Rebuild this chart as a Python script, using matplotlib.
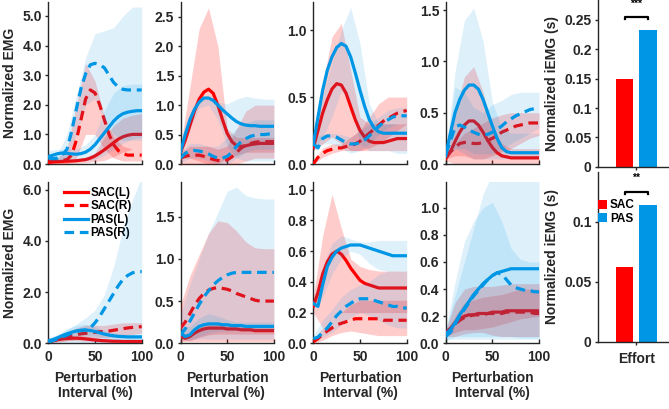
import numpy as np
import matplotlib.pyplot as plt

plt.rcParams['font.family'] = ['Liberation Sans', 'DejaVu Sans']
plt.rcParams['font.weight'] = 'bold'
plt.rcParams['axes.labelweight'] = 'bold'

RED = '#FF0000'
BLUE = '#0096E6'
GREY = '#262626'

# x grids (perturbation interval, %)
x_mean = np.arange(0, 101, 5)
x_band = np.arange(0, 101, 10)

labels = ['SAC(L)', 'SAC(R)', 'PAS(L)', 'PAS(R)']

# ---------- row 1, col 1 ----------
r1c1_sac_l = [0.05, 0.07, 0.08, 0.09, 0.1, 0.1, 0.11, 0.13, 0.15, 0.2, 0.27, 0.37, 0.48, 0.6, 0.72, 0.84, 0.92, 0.97, 1.0, 1.0, 1.0]
r1c1_sac_l_lo = [0.0, 0.0, 0.02, 0.03, 0.05, 0.08, 0.12, 0.25, 0.4, 0.5, 0.5]
r1c1_sac_l_hi = [0.15, 0.15, 0.15, 0.17, 0.22, 0.38, 0.9, 1.3, 1.55, 1.65, 1.7]
r1c1_sac_r = [0.1, 0.1, 0.1, 0.12, 0.15, 0.3, 0.8, 1.5, 2.2, 2.5, 2.4, 2.0, 1.5, 1.0, 0.65, 0.45, 0.35, 0.3, 0.3, 0.3, 0.3]
r1c1_sac_r_lo = [0.0, 0.0, 0.0, 0.2, 1.0, 1.0, 0.5, 0.2, 0.1, 0.1, 0.1]
r1c1_sac_r_hi = [0.15, 0.2, 0.5, 2.0, 3.4, 2.8, 1.6, 0.9, 0.6, 0.5, 0.5]
r1c1_pas_l = [0.25, 0.3, 0.35, 0.37, 0.36, 0.34, 0.33, 0.35, 0.4, 0.5, 0.65, 0.85, 1.05, 1.25, 1.45, 1.6, 1.7, 1.75, 1.78, 1.8, 1.8]
r1c1_pas_l_lo = [0.1, 0.1, 0.1, 0.1, 0.1, 0.15, 0.3, 0.5, 0.7, 0.85, 0.9]
r1c1_pas_l_hi = [0.45, 0.5, 0.5, 0.5, 0.65, 1.0, 1.8, 2.4, 2.65, 2.7, 2.7]
r1c1_pas_r = [0.2, 0.18, 0.2, 0.3, 0.5, 1.1, 1.85, 2.55, 3.05, 3.35, 3.4, 3.35, 3.25, 3.0, 2.75, 2.6, 2.52, 2.5, 2.5, 2.5, 2.5]
r1c1_pas_r_lo = [0.1, 0.1, 0.2, 1.0, 2.0, 2.2, 1.5, 1.0, 0.8, 0.8, 0.8]
r1c1_pas_r_hi = [0.3, 0.35, 1.0, 2.3, 3.6, 4.4, 4.5, 4.6, 5.0, 5.3, 5.3]

# ---------- row 1, col 2 ----------
r1c2_sac_l = [0.2, 0.4, 0.65, 0.9, 1.1, 1.22, 1.27, 1.2, 1.0, 0.75, 0.52, 0.38, 0.31, 0.3, 0.31, 0.33, 0.34, 0.35, 0.35, 0.35, 0.35]
r1c2_sac_l_lo = [0.1, 0.1, 0.05, 0.0, 0.0, 0.1, 0.15, 0.2, 0.2, 0.2, 0.2]
r1c2_sac_l_hi = [0.3, 1.3, 2.3, 2.65, 2.0, 0.6, 0.45, 0.45, 0.45, 0.45, 0.45]
r1c2_sac_r = [0.1, 0.13, 0.15, 0.15, 0.15, 0.13, 0.1, 0.08, 0.06, 0.05, 0.07, 0.12, 0.2, 0.27, 0.32, 0.35, 0.37, 0.38, 0.38, 0.38, 0.38]
r1c2_sac_r_lo = [0.0, 0.0, 0.0, 0.0, 0.0, 0.0, 0.0, 0.05, 0.1, 0.1, 0.1]
r1c2_sac_r_hi = [0.2, 0.3, 0.3, 0.3, 0.25, 0.3, 0.6, 0.9, 1.0, 1.0, 1.0]
r1c2_pas_l = [0.2, 0.5, 0.75, 0.93, 1.05, 1.12, 1.12, 1.08, 1.0, 0.92, 0.85, 0.78, 0.72, 0.68, 0.66, 0.65, 0.65, 0.64, 0.64, 0.64, 0.64]
r1c2_pas_l_lo = [0.1, 0.6, 0.95, 1.0, 0.75, 0.3, 0.1, 0.05, 0.05, 0.05, 0.05]
r1c2_pas_l_hi = [0.3, 0.85, 1.08, 1.13, 1.05, 1.02, 1.1, 1.15, 1.12, 1.1, 1.1]
r1c2_pas_r = [0.1, 0.18, 0.22, 0.23, 0.22, 0.2, 0.17, 0.13, 0.1, 0.1, 0.13, 0.2, 0.3, 0.38, 0.43, 0.47, 0.49, 0.5, 0.5, 0.51, 0.51]
r1c2_pas_r_lo = [0.02, 0.1, 0.1, 0.05, 0.0, 0.0, 0.1, 0.2, 0.25, 0.25, 0.25]
r1c2_pas_r_hi = [0.2, 0.35, 0.35, 0.3, 0.3, 0.45, 0.6, 0.7, 0.75, 0.75, 0.75]

# ---------- row 1, col 3 ----------
r1c3_sac_l = [0.12, 0.25, 0.38, 0.48, 0.56, 0.6, 0.59, 0.53, 0.43, 0.33, 0.25, 0.2, 0.17, 0.16, 0.16, 0.16, 0.17, 0.18, 0.19, 0.19, 0.19]
r1c3_sac_l_lo = [0.1, 0.15, 0.2, 0.15, 0.1, 0.1, 0.1, 0.1, 0.1, 0.1, 0.1]
r1c3_sac_l_hi = [0.15, 0.6, 0.95, 1.05, 0.7, 0.35, 0.3, 0.3, 0.3, 0.3, 0.3]
r1c3_sac_r = [0.0, 0.05, 0.08, 0.1, 0.11, 0.12, 0.12, 0.13, 0.14, 0.15, 0.17, 0.2, 0.23, 0.26, 0.29, 0.32, 0.34, 0.36, 0.38, 0.39, 0.4]
r1c3_sac_r_lo = [0.0, 0.05, 0.08, 0.1, 0.1, 0.1, 0.12, 0.15, 0.2, 0.25, 0.3]
r1c3_sac_r_hi = [0.02, 0.12, 0.15, 0.15, 0.2, 0.25, 0.35, 0.45, 0.5, 0.5, 0.5]
r1c3_pas_l = [0.15, 0.35, 0.55, 0.7, 0.8, 0.87, 0.9, 0.88, 0.8, 0.68, 0.55, 0.43, 0.33, 0.27, 0.24, 0.23, 0.23, 0.23, 0.23, 0.23, 0.23]
r1c3_pas_l_lo = [0.1, 0.2, 0.35, 0.55, 0.45, 0.15, 0.1, 0.1, 0.1, 0.08, 0.08]
r1c3_pas_l_hi = [0.15, 0.5, 0.75, 1.0, 1.17, 0.9, 0.45, 0.3, 0.3, 0.3, 0.3]
r1c3_pas_r = [0.15, 0.12, 0.19, 0.21, 0.21, 0.2, 0.18, 0.16, 0.15, 0.15, 0.16, 0.18, 0.21, 0.25, 0.28, 0.31, 0.33, 0.35, 0.36, 0.36, 0.36]
r1c3_pas_r_lo = [0.1, 0.15, 0.15, 0.12, 0.08, 0.1, 0.15, 0.22, 0.27, 0.3, 0.3]
r1c3_pas_r_hi = [0.2, 0.22, 0.23, 0.22, 0.2, 0.25, 0.3, 0.35, 0.4, 0.42, 0.42]

# ---------- row 1, col 4 ----------
r1c4_sac_l = [0.05, 0.12, 0.22, 0.31, 0.38, 0.42, 0.42, 0.38, 0.31, 0.23, 0.16, 0.11, 0.08, 0.07, 0.06, 0.06, 0.06, 0.06, 0.06, 0.06, 0.06]
r1c4_sac_l_lo = [0.03, 0.0, 0.0, 0.0, 0.0, 0.0, 0.0, 0.0, 0.0, 0.0, 0.0]
r1c4_sac_l_hi = [0.08, 0.5, 0.85, 0.95, 0.7, 0.35, 0.2, 0.15, 0.15, 0.15, 0.15]
r1c4_sac_r = [0.08, 0.12, 0.16, 0.2, 0.21, 0.21, 0.2, 0.2, 0.21, 0.23, 0.25, 0.28, 0.31, 0.33, 0.35, 0.37, 0.38, 0.39, 0.4, 0.4, 0.4]
r1c4_sac_r_lo = [0.05, 0.08, 0.08, 0.05, 0.05, 0.08, 0.12, 0.15, 0.2, 0.25, 0.28]
r1c4_sac_r_hi = [0.1, 0.2, 0.3, 0.35, 0.4, 0.45, 0.48, 0.5, 0.5, 0.5, 0.5]
r1c4_pas_l = [0.08, 0.3, 0.5, 0.63, 0.72, 0.77, 0.77, 0.73, 0.63, 0.5, 0.37, 0.25, 0.16, 0.12, 0.11, 0.11, 0.11, 0.11, 0.11, 0.11, 0.11]
r1c4_pas_l_lo = [0.05, 0.15, 0.1, 0.05, 0.05, 0.05, 0.05, 0.05, 0.05, 0.05, 0.05]
r1c4_pas_l_hi = [0.1, 0.9, 1.4, 1.52, 1.2, 0.6, 0.35, 0.3, 0.3, 0.3, 0.3]
r1c4_pas_r = [0.1, 0.22, 0.36, 0.38, 0.36, 0.33, 0.31, 0.29, 0.28, 0.29, 0.31, 0.34, 0.37, 0.41, 0.44, 0.47, 0.49, 0.51, 0.53, 0.54, 0.54]
r1c4_pas_r_lo = [0.05, 0.15, 0.15, 0.1, 0.1, 0.1, 0.15, 0.2, 0.25, 0.3, 0.35]
r1c4_pas_r_hi = [0.12, 0.75, 0.7, 0.55, 0.5, 0.58, 0.62, 0.68, 0.7, 0.7, 0.7]

# ---------- row 2, col 1 ----------
r2c1_sac_l = [0.05, 0.1, 0.14, 0.17, 0.19, 0.2, 0.2, 0.19, 0.17, 0.15, 0.13, 0.11, 0.1, 0.09, 0.08, 0.08, 0.07, 0.07, 0.07, 0.07, 0.07]
r2c1_sac_l_lo = [0.02, 0.08, 0.1, 0.1, 0.08, 0.06, 0.04, 0.03, 0.02, 0.02, 0.02]
r2c1_sac_l_hi = [0.08, 0.2, 0.28, 0.3, 0.28, 0.22, 0.18, 0.15, 0.14, 0.13, 0.13]
r2c1_sac_r = [0.05, 0.1, 0.15, 0.2, 0.25, 0.3, 0.34, 0.37, 0.39, 0.41, 0.43, 0.45, 0.46, 0.48, 0.51, 0.54, 0.57, 0.6, 0.62, 0.64, 0.65]
r2c1_sac_r_lo = [0.02, 0.05, 0.1, 0.15, 0.2, 0.2, 0.22, 0.25, 0.3, 0.35, 0.4]
r2c1_sac_r_hi = [0.1, 0.3, 0.45, 0.6, 0.7, 0.7, 0.7, 0.75, 0.8, 0.8, 0.8]
r2c1_pas_l = [0.1, 0.15, 0.22, 0.3, 0.37, 0.43, 0.48, 0.51, 0.52, 0.5, 0.46, 0.41, 0.36, 0.32, 0.29, 0.27, 0.26, 0.25, 0.25, 0.25, 0.25]
r2c1_pas_l_lo = [0.05, 0.1, 0.2, 0.3, 0.3, 0.28, 0.2, 0.15, 0.15, 0.15, 0.15]
r2c1_pas_l_hi = [0.15, 0.35, 0.55, 0.7, 0.75, 0.65, 0.5, 0.4, 0.35, 0.35, 0.35]
r2c1_pas_r = [0.05, 0.1, 0.18, 0.25, 0.32, 0.4, 0.46, 0.5, 0.52, 0.6, 0.8, 1.05, 1.35, 1.65, 1.95, 2.25, 2.5, 2.65, 2.75, 2.8, 2.8]
r2c1_pas_r_lo = [0.02, 0.02, 0.02, 0.02, 0.02, 0.02, 0.02, 0.02, 0.02, 0.02, 0.02]
r2c1_pas_r_hi = [0.1, 0.3, 0.55, 0.75, 1.0, 1.3, 1.9, 3.0, 4.5, 5.6, 6.5]

# ---------- row 2, col 2 ----------
r2c2_sac_l = [0.08, 0.06, 0.08, 0.12, 0.15, 0.17, 0.18, 0.18, 0.18, 0.18, 0.17, 0.17, 0.17, 0.16, 0.16, 0.16, 0.15, 0.15, 0.15, 0.15, 0.15]
r2c2_sac_l_lo = [0.04, 0.03, 0.07, 0.1, 0.11, 0.11, 0.11, 0.11, 0.11, 0.11, 0.11]
r2c2_sac_l_hi = [0.12, 0.12, 0.2, 0.24, 0.24, 0.22, 0.21, 0.2, 0.19, 0.19, 0.19]
r2c2_sac_r = [0.18, 0.25, 0.35, 0.45, 0.53, 0.59, 0.63, 0.65, 0.66, 0.65, 0.64, 0.62, 0.59, 0.57, 0.55, 0.53, 0.51, 0.5, 0.5, 0.5, 0.5]
r2c2_sac_r_lo = [0.02, 0.02, 0.02, 0.02, 0.02, 0.02, 0.02, 0.02, 0.02, 0.02, 0.02]
r2c2_sac_r_hi = [0.45, 0.8, 1.05, 1.3, 1.45, 1.43, 1.33, 1.2, 1.13, 1.12, 1.12]
r2c2_pas_l = [0.12, 0.08, 0.1, 0.16, 0.2, 0.22, 0.23, 0.23, 0.23, 0.22, 0.22, 0.21, 0.21, 0.21, 0.2, 0.2, 0.2, 0.2, 0.2, 0.2, 0.2]
r2c2_pas_l_lo = [0.05, 0.03, 0.08, 0.12, 0.14, 0.15, 0.15, 0.15, 0.15, 0.15, 0.15]
r2c2_pas_l_hi = [0.2, 0.2, 0.3, 0.35, 0.32, 0.28, 0.25, 0.25, 0.25, 0.25, 0.25]
r2c2_pas_r = [0.1, 0.17, 0.26, 0.36, 0.46, 0.55, 0.62, 0.69, 0.74, 0.78, 0.81, 0.83, 0.84, 0.84, 0.84, 0.84, 0.84, 0.84, 0.84, 0.84, 0.84]
r2c2_pas_r_lo = [0.05, 0.05, 0.05, 0.05, 0.05, 0.05, 0.05, 0.05, 0.05, 0.05, 0.05]
r2c2_pas_r_hi = [0.35, 0.7, 1.0, 1.3, 1.55, 1.8, 1.85, 1.75, 1.72, 1.71, 1.71]

# ---------- row 2, col 3 ----------
r2c3_sac_l = [0.24, 0.33, 0.45, 0.53, 0.58, 0.6, 0.58, 0.54, 0.49, 0.45, 0.41, 0.39, 0.38, 0.37, 0.36, 0.36, 0.36, 0.36, 0.36, 0.36, 0.36]
r2c3_sac_l_lo = [0.2, 0.1, 0.15, 0.2, 0.2, 0.2, 0.2, 0.2, 0.2, 0.2, 0.2]
r2c3_sac_l_hi = [0.3, 0.7, 0.97, 0.75, 0.55, 0.5, 0.48, 0.47, 0.47, 0.47, 0.47]
r2c3_sac_r = [0.01, 0.03, 0.06, 0.08, 0.1, 0.12, 0.13, 0.14, 0.15, 0.16, 0.16, 0.16, 0.16, 0.16, 0.16, 0.15, 0.15, 0.15, 0.15, 0.15, 0.15]
r2c3_sac_r_lo = [0.0, 0.02, 0.05, 0.07, 0.08, 0.07, 0.06, 0.05, 0.05, 0.05, 0.05]
r2c3_sac_r_hi = [0.03, 0.1, 0.15, 0.2, 0.25, 0.28, 0.28, 0.28, 0.28, 0.28, 0.28]
r2c3_pas_l = [0.26, 0.24, 0.38, 0.5, 0.56, 0.6, 0.62, 0.63, 0.64, 0.64, 0.64, 0.63, 0.62, 0.61, 0.6, 0.59, 0.58, 0.57, 0.57, 0.57, 0.57]
r2c3_pas_l_lo = [0.22, 0.3, 0.45, 0.55, 0.6, 0.58, 0.52, 0.48, 0.47, 0.47, 0.47]
r2c3_pas_l_hi = [0.28, 0.5, 0.65, 0.7, 0.68, 0.66, 0.66, 0.67, 0.67, 0.67, 0.67]
r2c3_pas_r = [0.03, 0.04, 0.07, 0.1, 0.14, 0.18, 0.21, 0.24, 0.26, 0.28, 0.29, 0.29, 0.29, 0.28, 0.27, 0.26, 0.25, 0.24, 0.24, 0.23, 0.23]
r2c3_pas_r_lo = [0.02, 0.04, 0.07, 0.12, 0.17, 0.2, 0.18, 0.15, 0.12, 0.1, 0.1]
r2c3_pas_r_hi = [0.05, 0.15, 0.22, 0.3, 0.35, 0.38, 0.4, 0.45, 0.47, 0.47, 0.47]

# ---------- row 2, col 4 ----------
r2c4_sac_l = [0.08, 0.11, 0.15, 0.18, 0.2, 0.21, 0.21, 0.22, 0.22, 0.22, 0.23, 0.23, 0.23, 0.24, 0.24, 0.24, 0.24, 0.24, 0.24, 0.24, 0.24]
r2c4_sac_l_lo = [0.05, 0.05, 0.07, 0.08, 0.08, 0.06, 0.05, 0.05, 0.05, 0.05, 0.05]
r2c4_sac_l_hi = [0.1, 0.3, 0.4, 0.42, 0.42, 0.42, 0.43, 0.44, 0.44, 0.44, 0.44]
r2c4_sac_r = [0.07, 0.1, 0.14, 0.17, 0.19, 0.2, 0.21, 0.21, 0.21, 0.22, 0.22, 0.22, 0.22, 0.23, 0.23, 0.23, 0.23, 0.23, 0.23, 0.22, 0.22]
r2c4_sac_r_lo = [0.05, 0.08, 0.1, 0.1, 0.11, 0.12, 0.14, 0.16, 0.18, 0.19, 0.2]
r2c4_sac_r_hi = [0.09, 0.2, 0.3, 0.32, 0.34, 0.35, 0.36, 0.38, 0.4, 0.4, 0.4]
r2c4_pas_l = [0.07, 0.1, 0.15, 0.21, 0.26, 0.31, 0.36, 0.4, 0.44, 0.47, 0.5, 0.52, 0.53, 0.54, 0.55, 0.55, 0.55, 0.55, 0.55, 0.55, 0.55]
r2c4_pas_l_lo = [0.03, 0.03, 0.03, 0.03, 0.03, 0.03, 0.03, 0.03, 0.03, 0.03, 0.03]
r2c4_pas_l_hi = [0.1, 0.45, 0.75, 0.9, 1.0, 1.04, 0.9, 0.7, 0.62, 0.6, 0.6]
r2c4_pas_r = [0.05, 0.08, 0.14, 0.2, 0.25, 0.3, 0.35, 0.39, 0.43, 0.47, 0.5, 0.52, 0.51, 0.47, 0.43, 0.41, 0.4, 0.39, 0.39, 0.38, 0.38]
r2c4_pas_r_lo = [0.02, 0.05, 0.05, 0.05, 0.05, 0.05, 0.05, 0.05, 0.04, 0.04, 0.04]
r2c4_pas_r_hi = [0.1, 0.35, 0.6, 0.85, 1.1, 1.25, 1.3, 1.3, 1.3, 1.3, 1.3]

# ---------- integrated EMG (effort) ----------
bar_groups = ['SAC', 'PAS']
iemg_top = [0.149, 0.233]
iemg_bottom = [0.062, 0.114]
sig_top = '***'
sig_bottom = '**'

panels = [
    # (row, col, series, ylim, yticks, fmt)
    (0, 0, [(r1c1_sac_l, r1c1_sac_l_lo, r1c1_sac_l_hi), (r1c1_sac_r, r1c1_sac_r_lo, r1c1_sac_r_hi),
            (r1c1_pas_l, r1c1_pas_l_lo, r1c1_pas_l_hi), (r1c1_pas_r, r1c1_pas_r_lo, r1c1_pas_r_hi)],
     5.47, [0, 1, 2, 3, 4, 5], '{:.1f}'),
    (0, 1, [(r1c2_sac_l, r1c2_sac_l_lo, r1c2_sac_l_hi), (r1c2_sac_r, r1c2_sac_r_lo, r1c2_sac_r_hi),
            (r1c2_pas_l, r1c2_pas_l_lo, r1c2_pas_l_hi), (r1c2_pas_r, r1c2_pas_r_lo, r1c2_pas_r_hi)],
     2.75, [0, 0.5, 1, 1.5, 2, 2.5], '{:.1f}'),
    (0, 2, [(r1c3_sac_l, r1c3_sac_l_lo, r1c3_sac_l_hi), (r1c3_sac_r, r1c3_sac_r_lo, r1c3_sac_r_hi),
            (r1c3_pas_l, r1c3_pas_l_lo, r1c3_pas_l_hi), (r1c3_pas_r, r1c3_pas_r_lo, r1c3_pas_r_hi)],
     1.21, [0, 0.5, 1], '{:.1f}'),
    (0, 3, [(r1c4_sac_l, r1c4_sac_l_lo, r1c4_sac_l_hi), (r1c4_sac_r, r1c4_sac_r_lo, r1c4_sac_r_hi),
            (r1c4_pas_l, r1c4_pas_l_lo, r1c4_pas_l_hi), (r1c4_pas_r, r1c4_pas_r_lo, r1c4_pas_r_hi)],
     1.58, [0, 0.5, 1, 1.5], '{:.1f}'),
    (1, 0, [(r2c1_sac_l, r2c1_sac_l_lo, r2c1_sac_l_hi), (r2c1_sac_r, r2c1_sac_r_lo, r2c1_sac_r_hi),
            (r2c1_pas_l, r2c1_pas_l_lo, r2c1_pas_l_hi), (r2c1_pas_r, r2c1_pas_r_lo, r2c1_pas_r_hi)],
     6.3, [0, 2, 4, 6], '{:.1f}'),
    (1, 1, [(r2c2_sac_l, r2c2_sac_l_lo, r2c2_sac_l_hi), (r2c2_sac_r, r2c2_sac_r_lo, r2c2_sac_r_hi),
            (r2c2_pas_l, r2c2_pas_l_lo, r2c2_pas_l_hi), (r2c2_pas_r, r2c2_pas_r_lo, r2c2_pas_r_hi)],
     1.91, [0, 0.5, 1, 1.5], '{:.1f}'),
    (1, 2, [(r2c3_sac_l, r2c3_sac_l_lo, r2c3_sac_l_hi), (r2c3_sac_r, r2c3_sac_r_lo, r2c3_sac_r_hi),
            (r2c3_pas_l, r2c3_pas_l_lo, r2c3_pas_l_hi), (r2c3_pas_r, r2c3_pas_r_lo, r2c3_pas_r_hi)],
     1.05, [0, 0.2, 0.4, 0.6, 0.8, 1.0], '{:.1f}'),
    (1, 3, [(r2c4_sac_l, r2c4_sac_l_lo, r2c4_sac_l_hi), (r2c4_sac_r, r2c4_sac_r_lo, r2c4_sac_r_hi),
            (r2c4_pas_l, r2c4_pas_l_lo, r2c4_pas_l_hi), (r2c4_pas_r, r2c4_pas_r_lo, r2c4_pas_r_hi)],
     1.19, [0, 0.2, 0.4, 0.6, 0.8, 1.0], '{:.1f}'),
]

styles = [(RED, '-'), (RED, '--'), (BLUE, '-'), (BLUE, '--')]
band_alpha = {RED: 0.2, BLUE: 0.13}

W, H = 669, 409
FS = 10
fig = plt.figure(figsize=(W / 100, H / 100), dpi=100)

col_left = [48.3, 180.5, 313.3, 445.7]
col_w = 93.4
row_top = [2, 182]
row_bot = [164, 343.3]


def style_axis(ax):
    for s in ['top', 'right']:
        ax.spines[s].set_visible(False)
    for s in ['left', 'bottom']:
        ax.spines[s].set_color(GREY)
        ax.spines[s].set_linewidth(1.0)
    ax.tick_params(colors=GREY, labelsize=FS, width=1.0)


for row, col, series, ytop, yticks, fmt in panels:
    l = col_left[col] / W
    b = 1 - row_bot[row] / H
    h = (row_bot[row] - row_top[row]) / H
    ax = fig.add_axes([l, b, col_w / W, h])
    z = 2
    for (mean, lo, hi), (c, ls), lab in zip(series, styles, labels):
        ax.fill_between(x_band, lo, hi, color=c, alpha=band_alpha[c], lw=0, zorder=z)
        line, = ax.plot(x_mean, mean, color=c, ls=ls, lw=2.3, label=lab, zorder=z + 1)
        if ls == '--':
            line.set_dashes((3, 1.8))
        z += 2
    ax.set_xlim(0, 100)
    ax.set_ylim(0, ytop)
    ax.set_xticks([0, 50, 100])
    ax.set_yticks(yticks)
    ax.set_yticklabels([fmt.format(t) for t in yticks])
    style_axis(ax)
    ax.tick_params(axis='x', direction='in', length=3, pad=5)
    ax.tick_params(axis='y', direction='out', length=2.5, pad=2)
    if row == 0:
        ax.tick_params(labelbottom=False)
    else:
        ax.set_xlabel('Perturbation\nInterval (%)', fontsize=FS, color=GREY, labelpad=5,
                      linespacing=1.1)
    if col == 0:
        ax.set_ylabel('Normalized EMG', fontsize=FS, color=GREY, labelpad=4)
    if row == 1 and col == 0:
        ax.legend(loc='upper left', bbox_to_anchor=(0.17, 0.97), frameon=False,
                  fontsize=8.5, handlelength=2.0, handletextpad=0.25,
                  labelspacing=0.12, borderpad=0, borderaxespad=0)

# bar panels
bar_specs = [
    (iemg_top, sig_top, 166.7, 0.0, 0.284, [0, 0.05, 0.1, 0.15, 0.2, 0.25],
     ['0', '0.05', '0.1', '0.15', '0.2', '0.25'], 0.2556, 0.277),
    (iemg_bottom, sig_bottom, 341.7, 172.0, 0.1414, [0, 0.05, 0.1],
     ['0', '0.05', '0.1'], 0.125, 0.1365),
]
bx0 = 598
for i, (vals, sig, bot, top, ytop, yt, ytl, ybr, ytxt) in enumerate(bar_specs):
    ax = fig.add_axes([bx0 / W, 1 - bot / H, (W - bx0) / W, (bot - top) / H])
    bars = ax.bar([1, 2], vals, width=0.75, color=[RED, BLUE], zorder=2)
    ax.set_xlim(-0.128, 2.894)
    ax.set_ylim(0, ytop)
    ax.set_yticks(yt)
    ax.set_yticklabels(ytl)
    ax.set_xticks([1.5])
    ax.set_xticklabels(['Effort'] if i == 1 else [''])
    style_axis(ax)
    ax.tick_params(axis='both', direction='out', length=2.5, pad=2)
    ax.tick_params(axis='x', pad=5)
    ax.set_ylabel('Normalized iEMG (s)', fontsize=FS, color=GREY, labelpad=4)
    d = ytop * 0.012
    ax.plot([1, 1, 2, 2], [ybr - d, ybr, ybr, ybr - d], color='black', lw=1.6,
            clip_on=False, zorder=3)
    ax.text(1.5, ytxt, sig, ha='center', va='center', fontsize=7.5, color='black')
    if i == 1:
        ax.legend(bars, bar_groups, loc='upper left', bbox_to_anchor=(0.0, 0.84),
                  frameon=False, fontsize=8.5, handlelength=0.8, handleheight=0.8,
                  handletextpad=0.2, labelspacing=0.15, borderpad=0, borderaxespad=0)

fig.savefig('out.png', dpi=100)
